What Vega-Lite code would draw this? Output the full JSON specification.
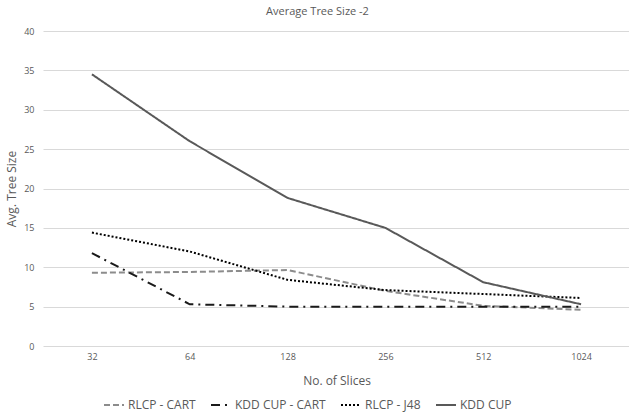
{
  "$schema": "https://vega.github.io/schema/vega-lite/v6.json",
  "width": 587,
  "height": 315,
  "autosize": "none",
  "padding": {"left": 43, "top": 31, "right": 0, "bottom": 68},
  "background": "white",
  "title": {"text": "Average Tree Size -2", "fontSize": 11, "fontWeight": "normal", "color": "#595959", "font": "Open Sans", "offset": 10, "dx": -19},
  "data": {"values": [
    {"series": "RLCP - CART", "slices": "32", "value": 9.3},
    {"series": "RLCP - CART", "slices": "64", "value": 9.4},
    {"series": "RLCP - CART", "slices": "128", "value": 9.65},
    {"series": "RLCP - CART", "slices": "256", "value": 7.0},
    {"series": "RLCP - CART", "slices": "512", "value": 5.1},
    {"series": "RLCP - CART", "slices": "1024", "value": 4.6},
    {"series": "KDD CUP - CART", "slices": "32", "value": 11.8},
    {"series": "KDD CUP - CART", "slices": "64", "value": 5.3},
    {"series": "KDD CUP - CART", "slices": "128", "value": 5.0},
    {"series": "KDD CUP - CART", "slices": "256", "value": 5.0},
    {"series": "KDD CUP - CART", "slices": "512", "value": 5.0},
    {"series": "KDD CUP - CART", "slices": "1024", "value": 5.0},
    {"series": "RLCP - J48", "slices": "32", "value": 14.4},
    {"series": "RLCP - J48", "slices": "64", "value": 12.0},
    {"series": "RLCP - J48", "slices": "128", "value": 8.4},
    {"series": "RLCP - J48", "slices": "256", "value": 7.1},
    {"series": "RLCP - J48", "slices": "512", "value": 6.6},
    {"series": "RLCP - J48", "slices": "1024", "value": 6.1},
    {"series": "KDD CUP", "slices": "32", "value": 34.5},
    {"series": "KDD CUP", "slices": "64", "value": 26.0},
    {"series": "KDD CUP", "slices": "128", "value": 18.8},
    {"series": "KDD CUP", "slices": "256", "value": 15.0},
    {"series": "KDD CUP", "slices": "512", "value": 8.1},
    {"series": "KDD CUP", "slices": "1024", "value": 5.3}
  ]},
  "mark": {"type": "line", "strokeWidth": 2},
  "encoding": {
    "x": {"field": "slices", "type": "ordinal", "sort": ["32", "64", "128", "256", "512", "1024"],
      "axis": {"title": "No. of Slices", "labelAngle": 0, "labelFontSize": 9, "labelColor": "#595959", "labelFont": "Open Sans", "titleFont": "Open Sans", "titleFontSize": 12, "titleFontWeight": "normal", "titleColor": "#595959", "ticks": false, "domain": false, "labelPadding": 6, "titlePadding": 14}},
    "y": {"field": "value", "type": "quantitative", "scale": {"domain": [0, 40]},
      "axis": {"title": "Avg. Tree Size", "values": [0, 5, 10, 15, 20, 25, 30, 35, 40], "labelFontSize": 9, "labelColor": "#595959", "labelFont": "Open Sans", "titleFont": "Open Sans", "titleFontSize": 12, "titleFontWeight": "normal", "titleColor": "#595959", "ticks": false, "domain": false, "labelPadding": 9, "titlePadding": 5, "gridColor": "#d9d9d9", "gridWidth": 1}},
    "color": {"field": "series", "type": "nominal",
      "scale": {"domain": ["RLCP - CART", "KDD CUP - CART", "RLCP - J48", "KDD CUP"], "range": ["#8c8c8c", "#1a1a1a", "#000000", "#595959"]},
      "legend": {"title": null, "orient": "none", "legendX": 60, "legendY": 363, "direction": "horizontal", "symbolType": "stroke", "symbolSize": 400, "symbolStrokeWidth": 2, "labelFontSize": 12, "labelColor": "#595959", "labelFont": "Open Sans", "labelOffset": 3, "columnPadding": 11}},
    "strokeDash": {"field": "series", "type": "nominal",
      "scale": {"domain": ["RLCP - CART", "KDD CUP - CART", "RLCP - J48", "KDD CUP"], "range": [[6, 3], [9, 5, 2, 5], [2, 2], [1, 0]]},
      "legend": {"title": null}}
  },
  "config": {"view": {"stroke": null}}
}
